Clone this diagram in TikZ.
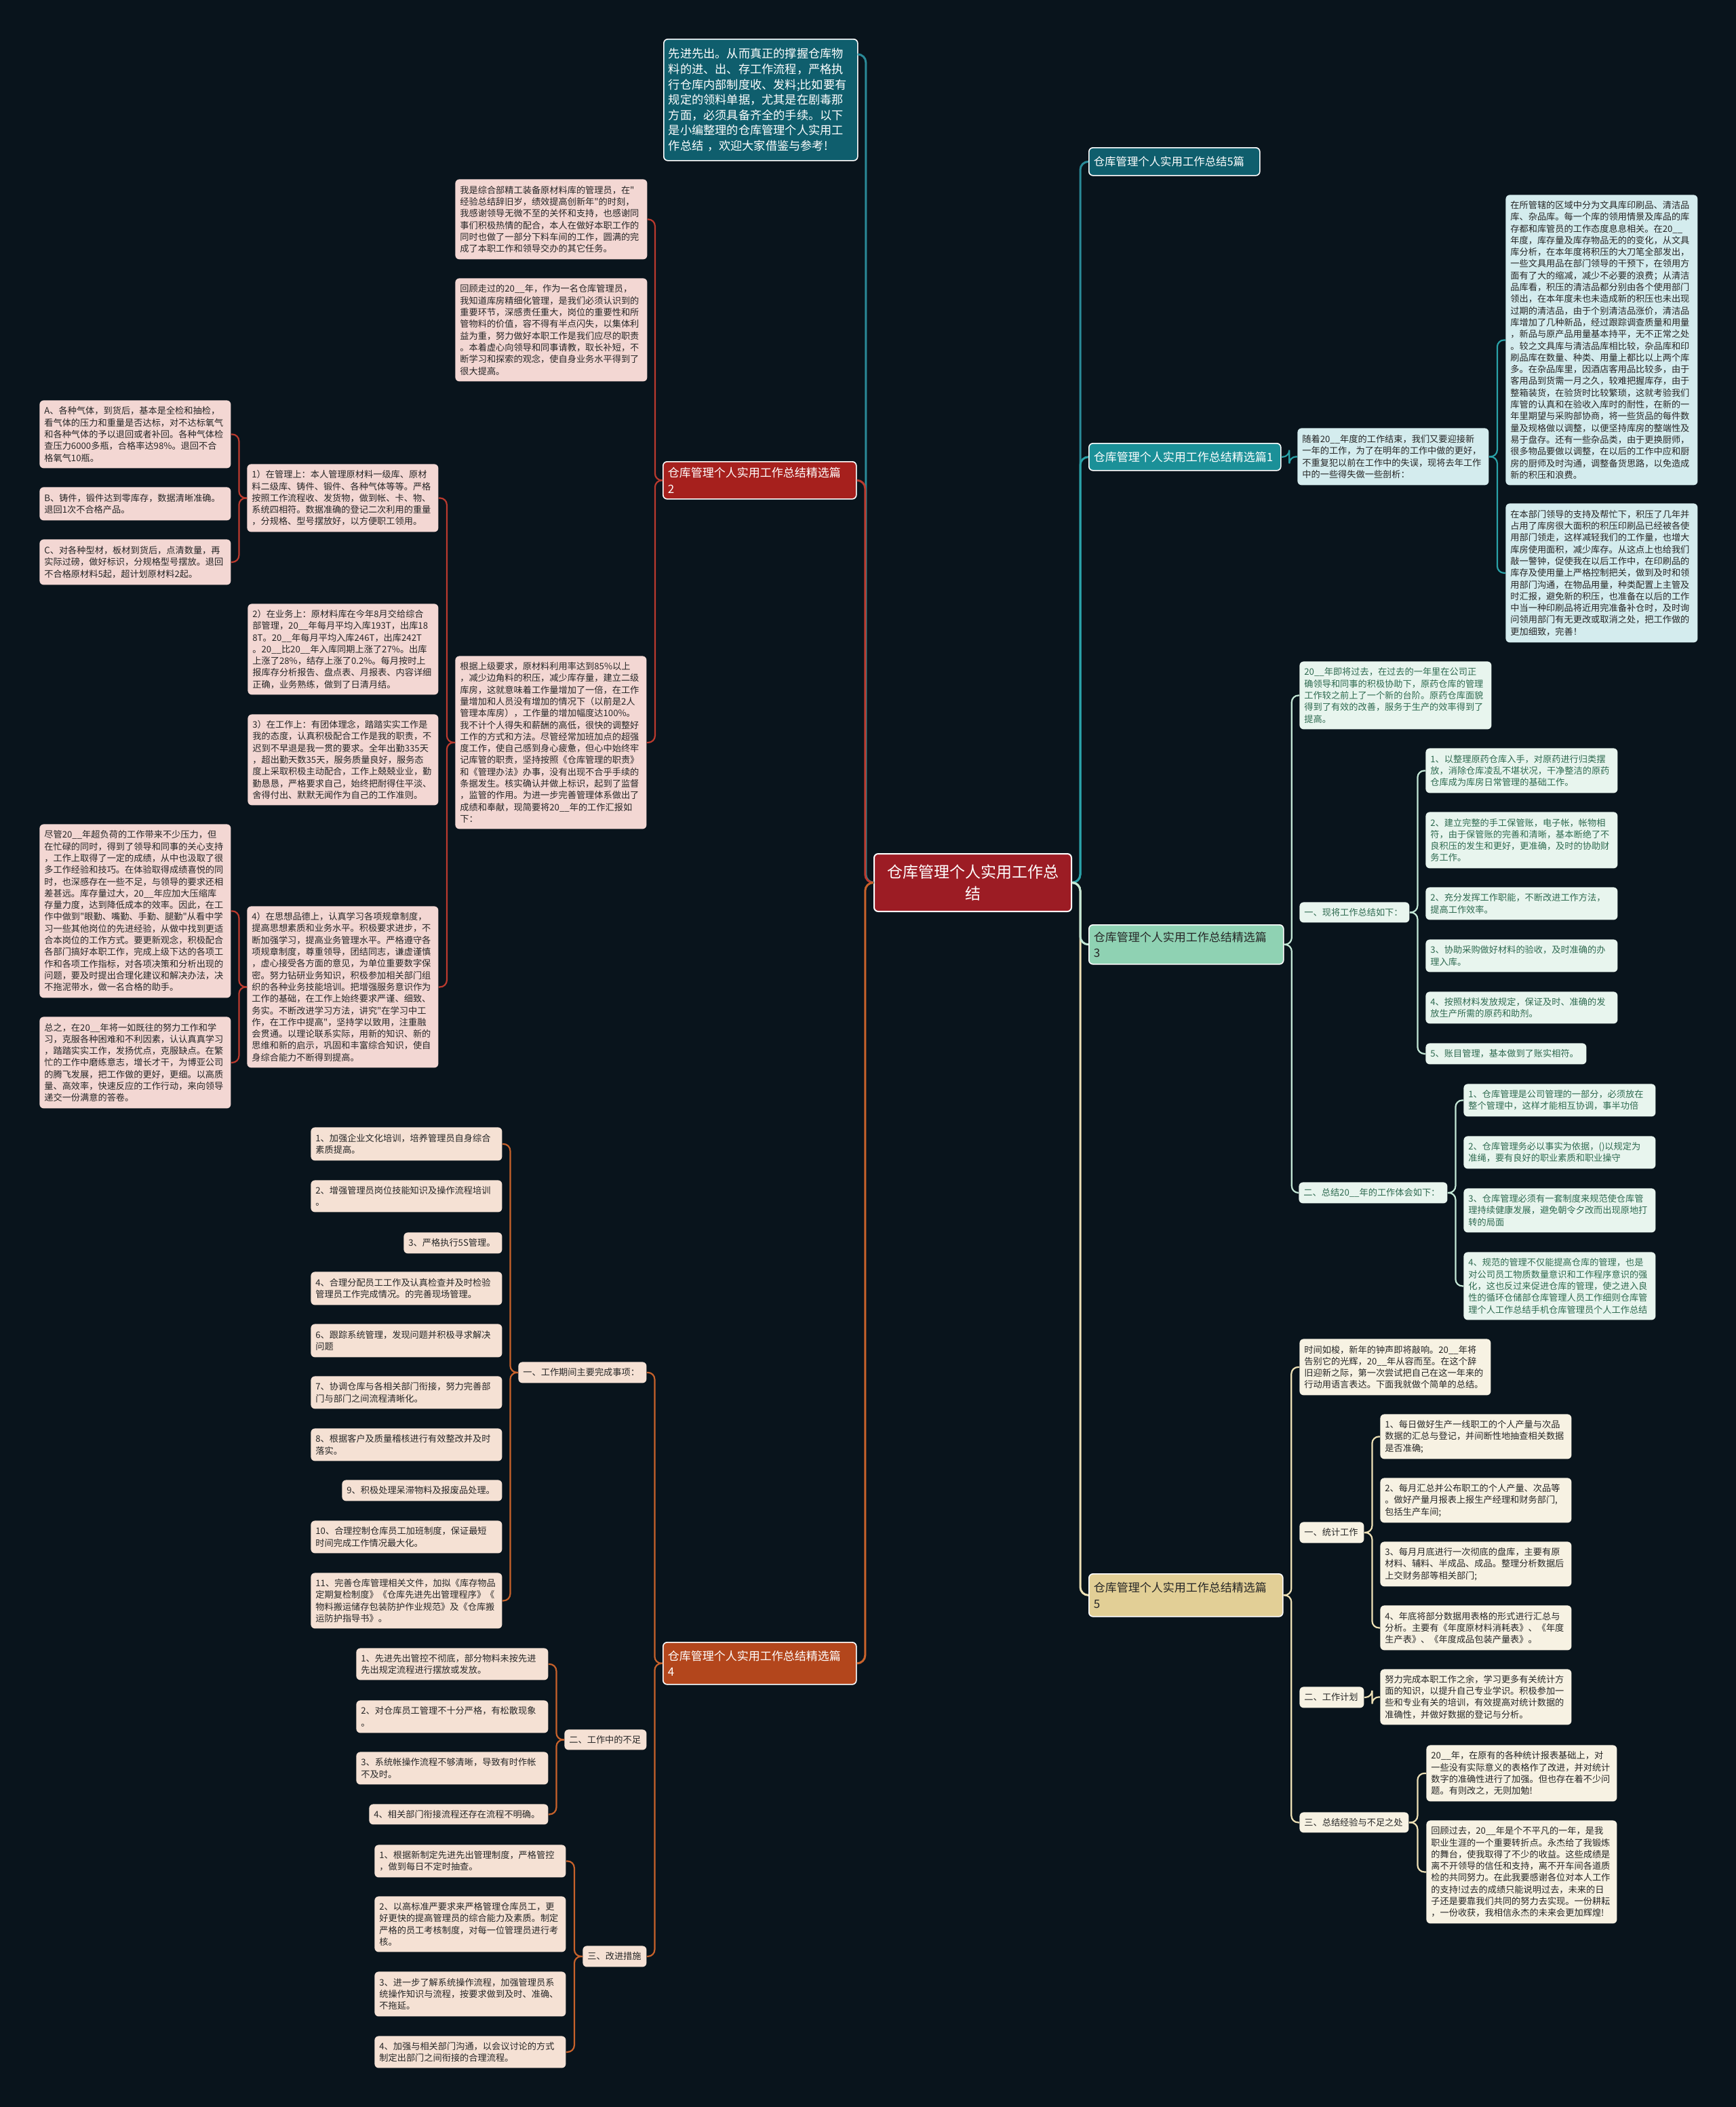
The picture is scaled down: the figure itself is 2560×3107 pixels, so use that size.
\documentclass[tikz,border=0pt]{standalone}
\usepackage{fontspec}
\newfontfamily\cjk{Noto Sans CJK SC}
\usetikzlibrary{calc}
\definecolor{bg}{HTML}{09141C}
\definecolor{ctrF}{HTML}{9C1C24}
\definecolor{tealD}{HTML}{0F5E6D}
\definecolor{tealM}{HTML}{1B9098}
\definecolor{redB}{HTML}{A6201D}
\definecolor{oraB}{HTML}{B3461C}
\definecolor{minB}{HTML}{8FD2B3}
\definecolor{tanB}{HTML}{E2CF96}
\definecolor{pkA}{HTML}{F3D7D3}
\definecolor{peB}{HTML}{F5E1D4}
\definecolor{cyT}{HTML}{D4ECEE}
\definecolor{mgG}{HTML}{E8F5EE}
\definecolor{crY}{HTML}{F7F2E3}
\definecolor{txD}{HTML}{262626}
\definecolor{txG}{HTML}{2E6A50}
\definecolor{lnI}{HTML}{2A8A98}
\definecolor{lnR}{HTML}{BB3A2E}
\definecolor{lnO}{HTML}{C8622B}
\definecolor{lnT}{HTML}{2AA2A8}
\definecolor{lnG}{HTML}{C4E8D6}
\definecolor{lnY}{HTML}{EEE1B6}
\newcommand\lnk[3]{%
  \path (#2) -- (#3) coordinate[pos=.5] (mtmp);
  \draw[#1] (#2) -- (mtmp |- #2) -- (mtmp |- #3) -- (#3);}
\newcommand\brc[4]{%
  \path (#2) -- (#3) coordinate[pos=.5] (mtmp);
  \draw[#1] (#3) -- (mtmp |- #3) -- (mtmp |- #2) -- (#2);
  \draw[#1] (#2) -- (mtmp |- #2) -- (mtmp |- #4) -- (#4);}
\tikzset{
  wh/.code 2 args={%
    \pgfmathsetmacro\mymw{#1*0.5}\pgfmathsetmacro\mymh{#2*0.5}\pgfmathsetmacro\mytw{#1*0.5-7}%
    \edef\myset{\noexpand\tikzset{minimum width=\mymw pt,minimum height=\mymh pt,text width=\mytw pt}}\myset},
  lf/.style={rounded corners=3pt, anchor=north west, inner xsep=3.5pt, inner ysep=0pt, align=left,
    font=\cjk\fontsize{6.6}{8.65}\selectfont},
  lfA/.style={lf, fill=pkA, text=txD},
  lfB/.style={lf, fill=peB, text=txD},
  lfT/.style={lf, fill=cyT, text=txD},
  lfG/.style={lf, fill=mgG, text=txG},
  lfY/.style={lf, fill=crY, text=txD},
  br/.style={rounded corners=3pt, anchor=north west, inner xsep=3.5pt, inner ysep=0pt, align=left,
    draw=white, line width=0.8pt, font=\cjk\fontsize{8.5}{11.8}\selectfont},
  cn/.style={line width=1.1pt, rounded corners=5pt},
  cnM/.style={line width=1.5pt, rounded corners=6pt},
}
\begin{document}
\begin{tikzpicture}[x=0.5pt,y=-0.5pt]
\fill[bg] (0,0) rectangle (2560,3107);
\useasboundingbox (0,0) rectangle (2560,3107);

% ---------- center ----------
\node[br, fill=ctrF, text=white, align=center, line width=1pt, wh={291}{85},
  font=\cjk\fontsize{11.5}{16}\selectfont] (ctr) at (1288,1258) {仓库管理个人实用工作总\\结};

% ---------- intro ----------
\node[br, fill=tealD, text=white, wh={286}{179}, font=\cjk\fontsize{8.6}{11.3}\selectfont] (intro) at (978,57)
{先进先出。从而真正的撑握仓库物\\料的进、出、存工作流程，严格执\\行仓库内部制度收、发料;比如要有\\规定的领料单据，尤其是在剧毒那\\方面，必须具备齐全的手续。以下\\是小编整理的仓库管理个人实用工\\作总结 ，欢迎大家借鉴与参考!};
\coordinate (introR) at ($(intro.north east)+(0,23)$);

% ---------- branch 2 ----------
\node[br, fill=redB, text=white, wh={285}{55}] (p2) at (977,680) {仓库管理个人实用工作总结精选篇\\2};
\node[lfA, wh={283}{118}] (b2a) at (671,264)
{我是综合部精工装备原材料库的管理员，在"\\经验总结辞旧岁，绩效提高创新年"的时刻，\\我感谢领导无微不至的关怀和支持，也感谢同\\事们积极热情的配合，本人在做好本职工作的\\同时也做了一部分下料车间的工作，圆满的完\\成了本职工作和领导交办的其它任务。};
\node[lfA, wh={283}{152}] (b2b) at (671,410)
{回顾走过的20\_\_年，作为一名仓库管理员，\\我知道库房精细化管理，是我们必须认识到的\\重要环节，深感责任重大，岗位的重要性和所\\管物料的价值，容不得有半点闪失，以集体利\\益为重，努力做好本职工作是我们应尽的职责\\。本着虚心向领导和同事请教，取长补短，不\\断学习和探索的观念，使自身业务水平得到了\\很大提高。};
\node[lfA, wh={282}{255}] (b2m) at (671,967)
{根据上级要求，原材料利用率达到85\%以上\\，减少边角料的积压，减少库存量，建立二级\\库房，这就意味着工作量增加了一倍，在工作\\量增加和人员没有增加的情况下（以前是2人\\管理本库房），工作量的增加幅度达100\%。\\我不计个人得失和薪酬的高低，很快的调整好\\工作的方式和方法。尽管经常加班加点的超强\\度工作，使自己感到身心疲惫，但心中始终牢\\记库管的职责，坚持按照《仓库管理的职责》\\和《管理办法》办事，没有出现不合乎手续的\\条据发生。核实确认并做上标识，起到了监督\\，监管的作用。为进一步完善管理体系做出了\\成绩和奉献，现简要将20\_\_年的工作汇报如\\下：};
\node[lfA, wh={282}{100}] (b21) at (364,684)
{1）在管理上：本人管理原材料一级库、原材\\料二级库、铸件、锻件、各种气体等等。严格\\按照工作流程收、发货物，做到帐、卡、物、\\系统四相符。数据准确的登记二次利用的重量\\，分规格、型号摆放好，以方便职工领用。};
\node[lfA, wh={282}{100}] (lA) at (58,590)
{A、各种气体，到货后，基本是全检和抽检，\\看气体的压力和重量是否达标，对不达标氧气\\和各种气体的予以退回或者补回。各种气体检\\查压力6000多瓶，合格率达98\%。退回不合\\格氧气10瓶。};
\node[lfA, wh={282}{49}] (lB) at (58,718)
{B、铸件，锻件达到零库存，数据清晰准确。\\退回1次不合格产品。};
\node[lfA, wh={282}{67}] (lC) at (58,795)
{C、对各种型材，板材到货后，点清数量，再\\实际过磅，做好标识，分规格型号摆放。退回\\不合格原材料5起，超计划原材料2起。};
\node[lfA, wh={281}{134}] (b22) at (365,890)
{2）在业务上：原材料库在今年8月交给综合\\部管理，20\_\_年每月平均入库193T，出库18\\8T。20\_\_年每月平均入库246T，出库242T\\。20\_\_比20\_\_年入库同期上涨了27\%。出库\\上涨了28\%，结存上涨了0.2\%。每月按时上\\报库存分析报告、盘点表、月报表、内容详细\\正确，业务熟练，做到了日清月结。};
\node[lfA, wh={281}{134}] (b23) at (365,1053)
{3）在工作上：有团体理念，踏踏实实工作是\\我的态度，认真积极配合工作是我的职责，不\\迟到不早退是我一贯的要求。全年出勤335天\\，超出勤天数35天，服务质量良好，服务态\\度上采取积极主动配合，工作上兢兢业业，勤\\勤恳恳，严格要求自己，始终把耐得住平淡、\\舍得付出、默默无闻作为自己的工作准则。};
\node[lfA, wh={282}{238}] (b24) at (364,1336)
{4）在思想品德上，认真学习各项规章制度，\\提高思想素质和业务水平。积极要求进步，不\\断加强学习，提高业务管理水平。严格遵守各\\项规章制度，尊重领导，团结同志，谦虚谨慎\\，虚心接受各方面的意见，为单位重要数字保\\密。努力钻研业务知识，积极参加相关部门组\\织的各种业务技能培训。把增强服务意识作为\\工作的基础，在工作上始终要求严谨、细致、\\务实。不断改进学习方法，讲究"在学习中工\\作，在工作中提高"，坚持学以致用，注重融\\会贯通。以理论联系实际，用新的知识、新的\\思维和新的启示，巩固和丰富综合知识，使自\\身综合能力不断得到提高。};
\node[lfA, wh={282}{256}] (lbig) at (58,1215)
{尽管20\_\_年超负荷的工作带来不少压力，但\\在忙碌的同时，得到了领导和同事的关心支持\\，工作上取得了一定的成绩，从中也汲取了很\\多工作经验和技巧。在体验取得成绩喜悦的同\\时，也深感存在一些不足，与领导的要求还相\\差甚远。库存量过大，20\_\_年应加大压缩库\\存量力度，达到降低成本的效率。因此，在工\\作中做到"眼勤、嘴勤、手勤、腿勤"从看中学\\习一些其他岗位的先进经验，从做中找到更适\\合本岗位的工作方式。要更新观念，积极配合\\各部门搞好本职工作，完成上级下达的各项工\\作和各项工作指标，对各项决策和分析出现的\\问题，要及时提出合理化建议和解决办法，决\\不拖泥带水，做一名合格的助手。};
\node[lfA, wh={282}{135}] (lsum) at (58,1499)
{总之，在20\_\_年将一如既往的努力工作和学\\习，克服各种困难和不利因素，认认真真学习\\，踏踏实实工作，发扬优点，克服缺点。在繁\\忙的工作中磨练意志，增长才干，为博亚公司\\的腾飞发展，把工作做的更好，更细。以高质\\量、高效率，快速反应的工作行动，来向领导\\递交一份满意的答卷。};

% ---------- branch 4 ----------
\node[br, fill=oraB, text=white, wh={285}{62}] (p4) at (977,2421) {仓库管理个人实用工作总结精选篇\\4};
\node[lfB, wh={189}{31}] (h41) at (764,2008) {一、工作期间主要完成事项：};
\node[lfB, wh={282}{49}] (i1) at (458,1662) {1、加强企业文化培训，培养管理员自身综合\\素质提高。};
\node[lfB, wh={282}{47}] (i2) at (458,1740) {2、增强管理员岗位技能知识及操作流程培训\\。};
\node[lfB, wh={145}{31}] (i3) at (595,1817) {3、严格执行5S管理。};
\node[lfB, wh={282}{49}] (i4) at (458,1875) {4、合理分配员工工作及认真检查并及时检验\\管理员工作完成情况。的完善现场管理。};
\node[lfB, wh={282}{49}] (i6) at (458,1952) {6、跟踪系统管理，发现问题并积极寻求解决\\问题};
\node[lfB, wh={282}{48}] (i7) at (458,2029) {7、协调仓库与各相关部门衔接，努力完善部\\门与部门之间流程清晰化。};
\node[lfB, wh={282}{48}] (i8) at (458,2106) {8、根据客户及质量稽核进行有效整改并及时\\落实。};
\node[lfB, wh={236}{31}] (i9) at (504,2182) {9、积极处理呆滞物料及报废品处理。};
\node[lfB, wh={282}{48}] (i10) at (458,2242) {10、合理控制仓库员工加班制度，保证最短\\时间完成工作情况最大化。};
\node[lfB, wh={282}{82}] (i11) at (458,2319) {11、完善仓库管理相关文件，加拟《库存物品\\定期复检制度》《仓库先进先出管理程序》《\\物料搬运储存包装防护作业规范》及《仓库搬\\运防护指导书》。};
\node[lfB, wh={121}{30}] (h42) at (832,2550) {二、工作中的不足};
\node[lfB, wh={283}{47}] (j1) at (525,2430) {1、先进先出管控不彻底，部分物料未按先进\\先出规定流程进行摆放或发放。};
\node[lfB, wh={283}{48}] (j2) at (525,2507) {2、对仓库员工管理不十分严格，有松散现象\\。};
\node[lfB, wh={283}{48}] (j3) at (525,2583) {3、系统帐操作流程不够清晰，导致有时作帐\\不及时。};
\node[lfB, wh={264}{30}] (j4) at (544,2660) {4、相关部门衔接流程还存在流程不明确。};
\node[lfB, wh={94}{31}] (h43) at (859,2869) {三、改进措施};
\node[lfB, wh={282}{48}] (k1) at (552,2720) {1、根据新制定先进先出管理制度，严格管控\\，做到每日不定时抽查。};
\node[lfB, wh={282}{82}] (k2) at (552,2796) {2、以高标准严要求来严格管理仓库员工，更\\好更快的提高管理员的综合能力及素质。制定\\严格的员工考核制度，对每一位管理员进行考\\核。};
\node[lfB, wh={282}{66}] (k3) at (552,2907) {3、进一步了解系统操作流程，加强管理员系\\统操作知识与流程，按要求做到及时、准确、\\不拖延。};
\node[lfB, wh={282}{47}] (k4) at (552,3002) {4、加强与相关部门沟通，以会议讨论的方式\\制定出部门之间衔接的合理流程。};

% ---------- right: B5, branch 1 ----------
\node[br, fill=tealD, text=white, wh={252}{41}, font=\cjk\fontsize{8.2}{11}\selectfont] (p0) at (1605,217) {仓库管理个人实用工作总结5篇};
\node[br, fill=tealM, text=white, wh={283}{40}] (p1) at (1605,653) {仓库管理个人实用工作总结精选篇1};
\node[lfT, wh={282}{84}] (p1c) at (1913,631) {随着20\_\_年度的工作结束，我们又要迎接新\\一年的工作，为了在明年的工作中做的更好，\\不重复犯以前在工作中的失误，现将去年工作\\中的一些得失做一些剖析：};
\node[lfT, wh={283}{428}] (t1) at (2220,287)
{在所管辖的区域中分为文具库印刷品、清洁品\\库、杂品库。每一个库的领用情景及库品的库\\存都和库管员的工作态度息息相关。在20\_\_\\年度，库存量及库存物品无的的变化，从文具\\库分析，在本年度将积压的大刀笔全部发出，\\一些文具用品在部门领导的干预下，在领用方\\面有了大的缩减，减少不必要的浪费；从清洁\\品库看，积压的清洁品都分别由各个使用部门\\领出，在本年度未也未造成新的积压也未出现\\过期的清洁品，由于个别清洁品涨价，清洁品\\库增加了几种新品，经过跟踪调查质量和用量\\，新品与原产品用量基本持平，无不正常之处\\。较之文具库与清洁品库相比较，杂品库和印\\刷品库在数量、种类、用量上都比以上两个库\\多。在杂品库里，因酒店客用品比较多，由于\\客用品到货需一月之久，较难把握库存，由于\\整箱装货，在验货时比较繁琐，这就考验我们\\库管的认真和在验收入库时的耐性，在新的一\\年里期望与采购部协商，将一些货品的每件数\\量及规格做以调整，以便坚持库房的整端性及\\易于盘存。还有一些杂品类，由于更换厨师，\\很多物品要做以调整，在以后的工作中应和厨\\房的厨师及时沟通，调整备货思路，以免造成\\新的积压和浪费。};
\node[lfT, wh={283}{205}] (t2) at (2220,742)
{在本部门领导的支持及帮忙下，积压了几年并\\占用了库房很大面积的积压印刷品已经被各使\\用部门领走，这样减轻我们的工作量，也增大\\库房使用面积，减少库存。从这点上也给我们\\敲一警钟，促使我在以后工作中，在印刷品的\\库存及使用量上严格控制把关，做到及时和领\\用部门沟通，在物品用量，种类配置上主管及\\时汇报，避免新的积压，也准备在以后的工作\\中当一种印刷品将近用完准备补仓时，及时询\\问领用部门有无更改或取消之处，把工作做的\\更加细致，完善！};

% ---------- branch 3 ----------
\node[br, fill=minB, text=txD, wh={287}{58}] (p3) at (1605,1363) {仓库管理个人实用工作总结精选篇\\3};
\node[lfG, wh={283}{100}] (g0) at (1916,975) {20\_\_年即将过去，在过去的一年里在公司正\\确领导和同事的积极协助下，原药仓库的管理\\工作较之前上了一个新的台阶。原药仓库面貌\\得到了有效的改善，服务于生产的效率得到了\\提高。};
\node[lfG, wh={162}{30}] (h31) at (1916,1330) {一、现将工作总结如下：};
\node[lfG, wh={283}{66}] (g1) at (2102,1103) {1、以整理原药仓库入手，对原药进行归类摆\\放，消除仓库凌乱不堪状况，干净整洁的原药\\仓库成为库房日常管理的基础工作。};
\node[lfG, wh={283}{83}] (g2) at (2102,1197) {2、建立完整的手工保管账，电子帐，帐物相\\符，由于保管账的完善和清晰，基本断绝了不\\良积压的发生和更好，更准确，及时的协助财\\务工作。};
\node[lfG, wh={283}{48}] (g2b) at (2102,1308) {2、充分发挥工作职能，不断改进工作方法，\\提高工作效率。};
\node[lfG, wh={283}{48}] (g3) at (2102,1385) {3、协助采购做好材料的验收，及时准确的办\\理入库。};
\node[lfG, wh={283}{47}] (g4) at (2102,1462) {4、按照材料发放规定，保证及时、准确的发\\放生产所需的原药和助剂。};
\node[lfG, wh={237}{31}] (g5) at (2102,1538) {5、账目管理，基本做到了账实相符。};
\node[lfG, wh={219}{31}] (h32) at (1915,1743) {二、总结20\_\_年的工作体会如下：};
\node[lfG, wh={283}{48}] (q1) at (2158,1598) {1、仓库管理是公司管理的一部分，必须放在\\整个管理中，这样才能相互协调，事半功倍};
\node[lfG, wh={283}{48}] (q2) at (2158,1675) {2、仓库管理务必以事实为依据，()以规定为\\准绳，要有良好的职业素质和职业操守};
\node[lfG, wh={283}{65}] (q3) at (2158,1752) {3、仓库管理必须有一套制度来规范使仓库管\\理持续健康发展，避免朝令夕改而出现原地打\\转的局面};
\node[lfG, wh={283}{100}] (q4) at (2158,1846) {4、规范的管理不仅能提高仓库的管理，也是\\对公司员工物质数量意识和工作程序意识的强\\化，这也反过来促进仓库的管理，使之进入良\\性的循环仓储部仓库管理人员工作细则仓库管\\理个人工作总结手机仓库管理员个人工作总结};

% ---------- branch 5 ----------
\node[br, fill=tanB, text=txD, wh={286}{63}] (p5) at (1605,2320) {仓库管理个人实用工作总结精选篇\\5};
\node[lfY, wh={282}{83}] (y0) at (1916,1974) {时间如梭，新年的钟声即将敲响。20\_\_年将\\告别它的光辉，20\_\_年从容而至。在这个辞\\旧迎新之际，第一次尝试把自己在这一年来的\\行动用语言表达。下面我就做个简单的总结。};
\node[lfY, wh={95}{31}] (h51) at (1916,2244) {一、统计工作};
\node[lfY, wh={282}{66}] (y1) at (2035,2085) {1、每日做好生产一线职工的个人产量与次品\\数据的汇总与登记，并间断性地抽查相关数据\\是否准确;};
\node[lfY, wh={282}{66}] (y2) at (2035,2179) {2、每月汇总并公布职工的个人产量、次品等\\。做好产量月报表上报生产经理和财务部门,\\包括生产车间;};
\node[lfY, wh={282}{66}] (y3) at (2035,2273) {3、每月月底进行一次彻底的盘库，主要有原\\材料、辅料、半成品、成品。整理分析数据后\\上交财务部等相关部门;};
\node[lfY, wh={282}{66}] (y4) at (2035,2367) {4、年底将部分数据用表格的形式进行汇总与\\分析。主要有《年度原材料消耗表》、《年度\\生产表》、《年度成品包装产量表》。};
\node[lfY, wh={95}{31}] (h52) at (1916,2487) {二、工作计划};
\node[lfY, wh={282}{82}] (yp) at (2035,2461) {努力完成本职工作之余，学习更多有关统计方\\面的知识，以提升自己专业学识。积极参加一\\些和专业有关的培训，有效提高对统计数据的\\准确性，并做好数据的登记与分析。};
\node[lfY, wh={161}{30}] (h53) at (1916,2672) {三、总结经验与不足之处};
\node[lfY, wh={281}{83}] (s1) at (2103,2573) {20\_\_年，在原有的各种统计报表基础上，对\\一些没有实际意义的表格作了改进，并对统计\\数字的准确性进行了加强。但也存在着不少问\\题。有则改之，无则加勉!};
\node[lfY, wh={281}{152}] (s2) at (2103,2684) {回顾过去，20\_\_年是个不平凡的一年，是我\\职业生涯的一个重要转折点。永杰给了我锻炼\\的舞台，使我取得了不少的收益。这些成绩是\\离不开领导的信任和支持，离不开车间各道质\\检的共同努力。在此我要感谢各位对本人工作\\的支持!过去的成绩只能说明过去，未来的日\\子还是要靠我们共同的努力去实现。一份耕耘\\，一份收获，我相信永杰的未来会更加辉煌!};

% ---------- connectors ----------
\lnk{cnM, draw=lnI}{ctr.west}{introR}
\lnk{cnM, draw=lnR}{ctr.west}{p2.east}
\lnk{cnM, draw=lnO}{ctr.west}{p4.east}
\lnk{cnM, draw=lnI}{ctr.east}{p0.west}
\lnk{cnM, draw=lnT}{ctr.east}{p1.west}
\lnk{cnM, draw=lnY}{ctr.east}{p5.west}
\lnk{cnM, draw=lnG}{ctr.east}{p3.west}

\brc{cn, draw=lnR}{p2.west}{b2a.east}{b2m.east}
\brc{cn, draw=lnR}{b2m.west}{b21.east}{b24.east}
\brc{cn, draw=lnR}{b21.west}{lA.east}{lC.east}
\brc{cn, draw=lnR}{b24.west}{lbig.east}{lsum.east}

\brc{cn, draw=lnO}{p4.west}{h41.east}{h43.east}
\brc{cn, draw=lnO}{h41.west}{i1.east}{i11.east}
\brc{cn, draw=lnO}{h42.west}{j1.east}{j4.east}
\brc{cn, draw=lnO}{h43.west}{k1.east}{k4.east}

\lnk{cn, draw=lnT}{p1.east}{p1c.west}
\brc{cn, draw=lnT}{p1c.east}{t1.west}{t2.west}

\brc{cn, draw=lnG}{p3.east}{g0.west}{h32.west}
\brc{cn, draw=lnG}{h31.east}{g1.west}{g5.west}
\brc{cn, draw=lnG}{h32.east}{q1.west}{q4.west}

\brc{cn, draw=lnY}{p5.east}{y0.west}{h53.west}
\brc{cn, draw=lnY}{h51.east}{y1.west}{y4.west}
\lnk{cn, draw=lnY}{h52.east}{yp.west}
\brc{cn, draw=lnY}{h53.east}{s1.west}{s2.west}
\end{tikzpicture}
\end{document}
